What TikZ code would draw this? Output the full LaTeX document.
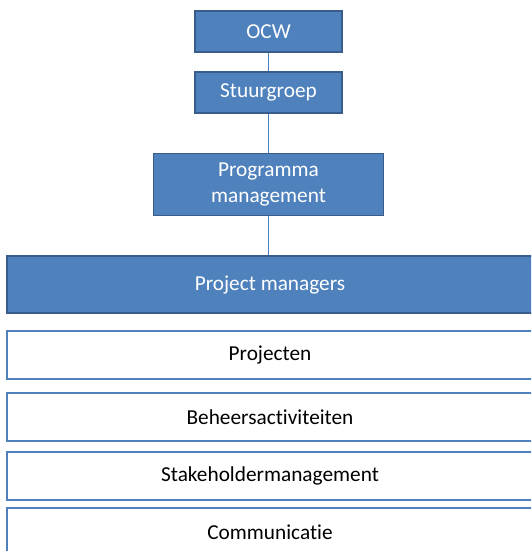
\documentclass[tikz,border=0pt]{standalone}
\usepackage{fontspec}
\setmainfont{Carlito}[Ligatures=NoCommon]
\definecolor{accent}{HTML}{4F81BD}
\definecolor{accentdark}{HTML}{385D8A}
\definecolor{linkblue}{HTML}{4A7EBB}
\tikzset{
  bluebox/.style={draw=accentdark, line width=1.8pt, fill=accent, text=white, inner sep=0pt, align=center, font=\fontsize{21.3}{26.5}\selectfont},
  whitebox/.style={draw=accent, line width=2.4pt, fill=white, text=black, inner sep=0pt, align=center, font=\fontsize{21.3}{26.5}\selectfont},
  link/.style={draw=linkblue, line width=0.9pt}
}
\begin{document}
\begin{tikzpicture}[x=1pt,y=1pt]
\useasboundingbox (0,0) rectangle (531,-551);
\clip (0,0) rectangle (531,-551);
\node[bluebox, minimum width=147pt, minimum height=41pt] (ocw) at (268.5,-31.5) {OCW};
\node[bluebox, minimum width=147pt, minimum height=41pt] (stuur) at (268.5,-92.5) {Stuurgroep};
\node[bluebox, minimum width=230pt, minimum height=62pt] (prog) at (268.5,-184.5) {Programma\\management};
\node[bluebox, minimum width=526pt, minimum height=57pt] (pm) at (270,-284.5) {Project managers};
\node[whitebox, minimum width=526pt, minimum height=48pt] (proj) at (270,-355) {Projecten};
\node[whitebox, minimum width=526pt, minimum height=48pt] (beh) at (270,-417) {Beheersactiviteiten};
\node[whitebox, minimum width=526pt, minimum height=48pt] (stake) at (270,-476) {Stakeholdermanagement};
\node[whitebox, minimum width=526pt, minimum height=48pt] (comm) at (270,-532) {Communicatie};
\draw[link] (ocw.south) -- (stuur.north);
\draw[link] (stuur.south) -- (prog.north);
\draw[link] (prog.south) -- (prog.south |- pm.north);
\end{tikzpicture}
\end{document}
